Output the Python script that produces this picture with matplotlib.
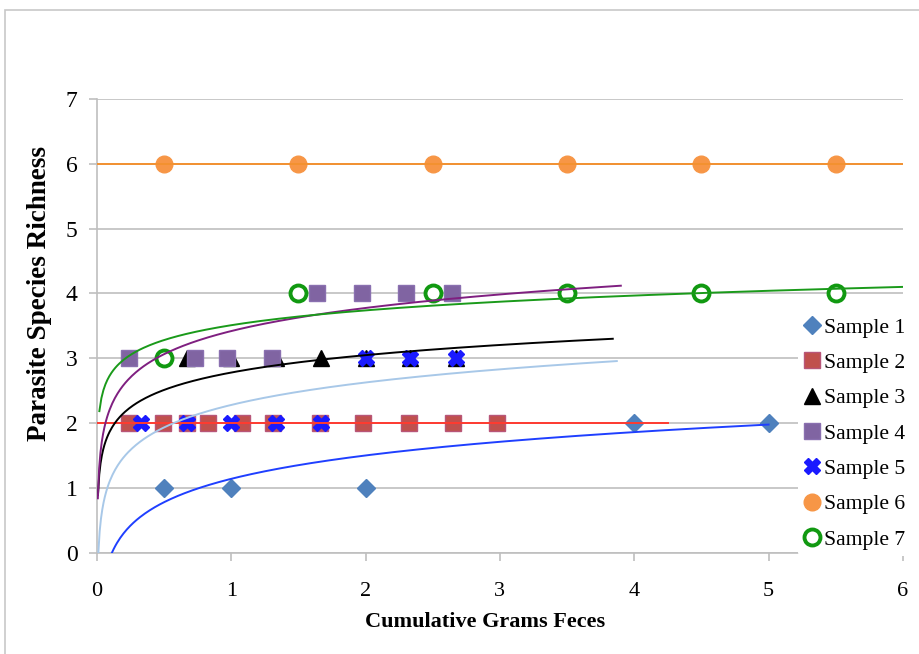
import numpy as np
import matplotlib
matplotlib.use("Agg")
import matplotlib.pyplot as plt
from matplotlib.patches import Rectangle

# cumulative grams of feces vs. number of parasite species found
s1_x = [0.5, 1.0, 2.0, 4.0, 5.0]
s1_y = [1, 1, 1, 2, 2]
s2_x = [0.24, 0.49, 0.67, 0.83, 1.08, 1.31, 1.66, 1.98, 2.32, 2.65, 2.98]
s2_y = [2, 2, 2, 2, 2, 2, 2, 2, 2, 2, 2]
s3_x = [0.67, 1.0, 1.33, 1.67, 2.0, 2.33, 2.67]
s3_y = [3, 3, 3, 3, 3, 3, 3]
s4_x = [0.24, 0.73, 0.97, 1.3, 1.64, 1.97, 2.3, 2.64]
s4_y = [3, 3, 3, 3, 4, 4, 4, 4]
s5_x = [0.33, 0.67, 1.0, 1.33, 1.67, 2.0, 2.33, 2.67]
s5_y = [2, 2, 2, 2, 2, 3, 3, 3]
s6_x = [0.5, 1.5, 2.5, 3.5, 4.5, 5.5]
s6_y = [6, 6, 6, 6, 6, 6]
s7_x = [0.5, 1.5, 2.5, 3.5, 4.5, 5.5]
s7_y = [3, 4, 4, 4, 4, 4]

labels = ["Sample 1", "Sample 2", "Sample 3", "Sample 4",
          "Sample 5", "Sample 6", "Sample 7"]

# logarithmic trendlines  y = a*ln(x) + b, drawn between x_lo and x_hi
trend_a = [0.52, 0.0, 0.387, 0.514, 0.50, 0.0, 0.33]
trend_b = [1.14, 2.0, 2.78, 3.42, 2.28, 6.0, 3.51]
trend_lo = [0.112, 0.0, 0.0076, 0.0066, 0.0105, 0.0, 0.018]
trend_hi = [5.0, 4.25, 3.84, 3.90, 3.87, 6.0, 6.0]
trend_col = ["#1f3fff", "#ff3b30", "#000000", "#7f1f80",
             "#a8c8e8", "#f39130", "#1a9a1a"]

xs = [s1_x, s2_x, s3_x, s4_x, s5_x, s6_x, s7_x]
ys = [s1_y, s2_y, s3_y, s4_y, s5_y, s6_y, s7_y]

styles = [
    dict(marker="D", ms=9, mfc="#4f81bd", mec="#4f81bd"),
    dict(marker="s", ms=11, mfc="#c0504d", mec="#b85679", mew=1),
    dict(marker="^", ms=11, mfc="black", mec="black"),
    dict(marker="s", ms=11, mfc="#8064a2", mec="#8a70b0", mew=1),
    dict(marker="X", ms=12, mfc="#1a1aff", mec="#1a1aff"),
    dict(marker="o", ms=12, mfc="#f79646", mec="#f79646"),
    dict(marker="o", ms=11.5, mfc="white", mec="#119911", mew=2.8),
]

plt.rcParams["font.family"] = ["Liberation Serif", "DejaVu Serif"]

fig = plt.figure(figsize=(9.19, 6.54), dpi=100)
ax = fig.add_axes([0.1055, 0.1549, 0.877, 0.6937])

# thin frame around the whole chart
fig.patches.append(Rectangle((0.005, -0.02), 1.1, 1.005, transform=fig.transFigure,
                             fill=False, ec="#c8c8c8", lw=1.2))

handles = []
for i in range(7):
    h, = ax.plot(xs[i], ys[i], ls="none", zorder=3 + i * 0.1, **styles[i])
    handles.append(h)

for i in range(7):
    if trend_a[i] == 0:
        tx = np.array([trend_lo[i], trend_hi[i]])
        ty = np.full(2, trend_b[i])
    else:
        tx = np.linspace(trend_lo[i], trend_hi[i], 400)
        ty = trend_a[i] * np.log(tx) + trend_b[i]
    ax.plot(tx, ty, color=trend_col[i], lw=1.4, zorder=4)

ax.set_xlim(0, 6)
ax.set_ylim(0, 7)
ax.set_xticks(range(0, 7))
ax.set_yticks(range(0, 8))
ax.grid(axis="y", color="#bfbfbf", lw=1.2, zorder=0)
ax.set_axisbelow(True)

for side in ["top", "right"]:
    ax.spines[side].set_visible(False)
for side in ["left", "bottom"]:
    ax.spines[side].set_color("#bfbfbf")
    ax.spines[side].set_linewidth(1.2)

ax.tick_params(axis="y", length=6, color="#bfbfbf", width=1.2, pad=8, labelsize=17)
ax.tick_params(axis="x", length=6, color="#bfbfbf", width=1.2, pad=15, labelsize=16)

ax.set_xlabel("Cumulative Grams Feces", fontsize=16, fontweight="bold")
ax.set_ylabel("Parasite Species Richness", fontsize=19.5, fontweight="bold")
ax.xaxis.set_label_coords((485 - 97) / 806, -(612 - 553) / 454)
ax.yaxis.set_label_coords(-(97 - 52) / 806, (553 - 294) / 454)

leg = fig.legend(handles, labels, loc="upper left", bbox_to_anchor=(798 / 919, 1 - 311 / 654),
                 frameon=True, fontsize=15.6, handlelength=0.7, handletextpad=0.2,
                 labelspacing=0.7, borderpad=0.3, borderaxespad=0)
leg.get_frame().set_edgecolor("none")
leg.get_frame().set_facecolor("white")
leg.get_frame().set_alpha(1)
leg.set_zorder(10)

fig.savefig("out.png", dpi=100)
